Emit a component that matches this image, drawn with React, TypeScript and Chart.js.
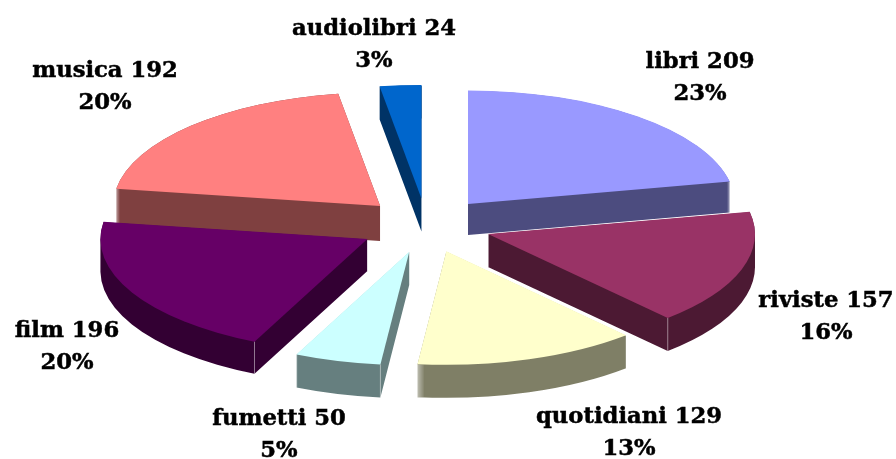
import React, { useEffect, useRef } from "react";
import { Chart, registerables } from "chart.js";

Chart.register(...registerables);

const categories = ["libri", "riviste", "quotidiani", "fumetti", "film", "musica", "audiolibri"];
const values = [209, 157, 129, 50, 196, 192, 24];
const percents = ["23%", "16%", "13%", "5%", "20%", "20%", "3%"];
const topColors = ["#9999FF", "#993366", "#FFFFCC", "#CCFFFF", "#660066", "#FF8080", "#0066CC"];
const wallColors = ["#4C4C7F", "#4C1933", "#7F7F66", "#667F7F", "#330033", "#7F4040", "#003366"];

// layout
const WIDTH = 896;
const HEIGHT = 459;
const RADIUS = 267;
const explode = [65.5, 64.7, 64, 64, 67, 65.4, 64];
const depths = [31, 33, 33, 33, 32, 35, 33];
const TILT = 0.425;
const CENTER_X = 426.5;
const CENTER_Y = 225.5;
const LABEL_FONT = 'bold 22.7px "DejaVu Serif"';
const LABEL_LINE = 32;
const labelAnchors = [
  [700, 62], [826, 301], [629, 417], [279, 419], [67, 331], [105, 71], [374, 29],
];

const pie3d = {
  id: "pie3d",
  beforeDatasetsDraw(chart: any) {
    const ctx = chart.ctx;
    const arcs = chart.getDatasetMeta(0).data;
    const order = arcs
      .map((a: any, i: number) => i)
      .sort((p: number, q: number) => {
        const m = (a: any) => (a.startAngle + a.endAngle) / 2;
        return Math.sin(m(arcs[p])) - Math.sin(m(arcs[q]));
      });
    ctx.save();
    ctx.translate(CENTER_X, CENTER_Y);
    ctx.scale(1, TILT);
    ctx.translate(-arcs[0].x, -arcs[0].y);
    const step = 1 / TILT / 2;
    const sector = (a: any, cx: number, cy: number) => {
      ctx.moveTo(cx, cy);
      ctx.arc(cx, cy, a.outerRadius, a.startAngle, a.endAngle);
      ctx.closePath();
    };
    for (const i of order) {
      const a = arcs[i];
      const dz = depths[i] / TILT;
      const mid = (a.startAngle + a.endAngle) / 2;
      const cx = a.x + Math.cos(mid) * a.options.offset;
      const cy = a.y + Math.sin(mid) * a.options.offset;
      // all wall layers go in one path, so that they fill as a single shape
      ctx.fillStyle = wallColors[i];
      ctx.beginPath();
      for (let d = dz; d > 0; d -= step) sector(a, cx, cy + d);
      ctx.fill();
      ctx.fillStyle = a.options.backgroundColor;
      ctx.beginPath();
      sector(a, cx, cy);
      ctx.fill();
      // pale seam where a visible flat side meets the curved wall
      const full = Math.PI * 2;
      const fromTop = (t: number) => ((t + Math.PI / 2) % full + full) % full;
      const s = fromTop(a.startAngle);
      const e = fromTop(a.endAngle);
      const seams: number[] = [];
      if (s > Math.PI && s < Math.PI * 1.5) seams.push(a.startAngle);
      if (e > Math.PI / 2 && e < Math.PI) seams.push(a.endAngle);
      for (const t of seams) {
        const sx = cx + Math.cos(t) * a.outerRadius;
        const sy = cy + Math.sin(t) * a.outerRadius;
        ctx.strokeStyle = "rgba(255,255,255,0.65)";
        ctx.lineWidth = 1;
        ctx.beginPath();
        ctx.moveTo(sx, sy);
        ctx.lineTo(sx, sy + dz);
        ctx.stroke();
      }
    }
    ctx.restore();
    return false;
  },
  afterDraw(chart: any) {
    const ctx = chart.ctx;
    ctx.save();
    ctx.fillStyle = "#000000";
    ctx.strokeStyle = "#000000";
    ctx.lineWidth = 0.5;
    ctx.font = LABEL_FONT;
    ctx.textAlign = "center";
    ctx.textBaseline = "middle";
    categories.forEach((c, i) => {
      const [x, y] = labelAnchors[i];
      const first = `${c} ${values[i]}`;
      ctx.fillText(first, x, y);
      ctx.strokeText(first, x, y);
      ctx.fillText(percents[i], x, y + LABEL_LINE);
      ctx.strokeText(percents[i], x, y + LABEL_LINE);
    });
    ctx.restore();
  },
};

export default function App() {
  const ref = useRef<HTMLCanvasElement>(null);
  useEffect(() => {
    document.body.style.margin = "0";
    document.body.style.background = "#ffffff";
    const chart = new Chart(ref.current as HTMLCanvasElement, {
      type: "pie",
      data: {
        labels: categories,
        datasets: [
          {
            data: values,
            backgroundColor: topColors,
            borderWidth: 0,
            offset: explode,
            clip: false,
          } as any,
        ],
      },
      options: {
        animation: false,
        responsive: false,
        radius: RADIUS,
        rotation: 0,
        layout: { padding: 0 },
        events: [],
        plugins: { legend: { display: false }, tooltip: { enabled: false } },
      } as any,
      plugins: [pie3d],
    });
    return () => chart.destroy();
  }, []);
  return (
    <div style={{ width: WIDTH, height: HEIGHT, overflow: "hidden" }}>
      <canvas ref={ref} width={WIDTH} height={HEIGHT} style={{ display: "block" }} />
    </div>
  );
}
